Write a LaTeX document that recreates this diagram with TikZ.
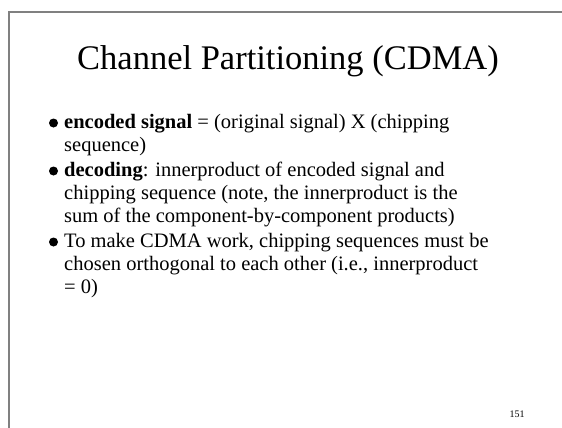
\documentclass[tikz,border=0pt]{standalone}
\usepackage{fontspec}
\setmainfont{Liberation Serif}
\begin{document}
\begin{tikzpicture}[x=1pt,y=-1pt,
  frameline/.style={draw=black!50, line width=2pt},
  titletext/.style={anchor=base, inner sep=0pt, font=\fontsize{34.5}{40}\selectfont},
  bodytext/.style={anchor=base west, inner sep=0pt, font=\fontsize{20.5}{23}\selectfont},
  bulletdot/.style={circle, fill=black, inner sep=0pt, minimum size=9pt},
  pagenum/.style={anchor=base, inner sep=0pt, font=\fontsize{10}{12}\selectfont}]
\useasboundingbox (0,0) rectangle (562,428);
% slide frame: left and top edges only
\coordinate (frametop) at (562,12);
\coordinate (framecorner) at (8.5,12);
\coordinate (framebottom) at (8.5,428);
\draw[frameline] (frametop) -- (framecorner) -- (framebottom);
% title
\node[titletext] (title) at (288,70) {Channel Partitioning (CDMA)};
% bullet 1
\node[bulletdot] (b1) at (53.5,123) {};
\node[bodytext] (l1) at (64,128.5) {\textbf{encoded signal} = (original signal) X (chipping};
\node[bodytext] (l2) at (64,151.5) {sequence)};
% bullet 2
\node[bulletdot] (b2) at (53.5,171) {};
\node[bodytext] (l3) at (64,176.5) {\textbf{decoding}: innerproduct of encoded signal and};
\node[bodytext] (l4) at (64,199.5) {chipping sequence (note, the innerproduct is the};
\node[bodytext] (l5) at (64,222.5) {sum of the component-by-component products)};
% bullet 3
\node[bulletdot] (b3) at (53.5,242) {};
\node[bodytext] (l6) at (64,247.5) {To make CDMA work, chipping sequences must be};
\node[bodytext] (l7) at (64,270.5) {chosen orthogonal to each other (i.e., innerproduct};
\node[bodytext] (l8) at (64,293.5) {= 0)};
% page number
\node[pagenum] (page) at (517,417) {151};
\end{tikzpicture}
\end{document}
